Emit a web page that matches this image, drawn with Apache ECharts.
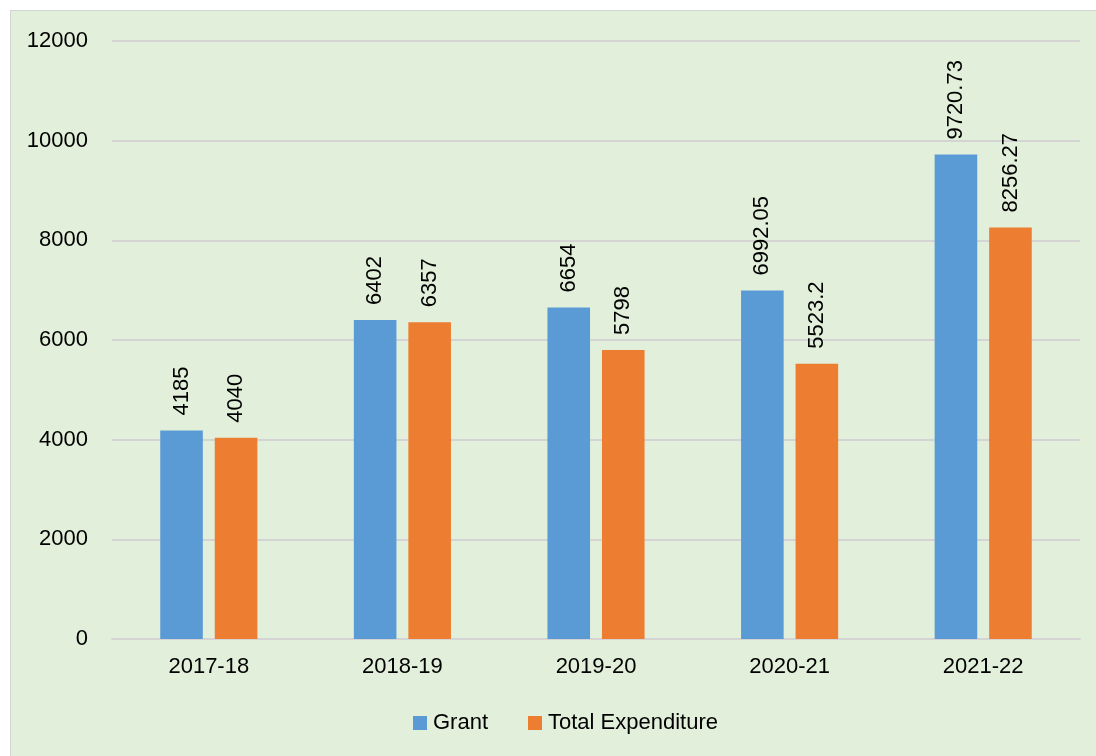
<!DOCTYPE html>
<html><head><meta charset="utf-8">
<script src="https://cdn.jsdelivr.net/npm/echarts@6/dist/echarts.min.js"></script>
<style>
html,body{margin:0;padding:0;background:#fff;width:1096px;height:756px;overflow:hidden;}
#frame{position:absolute;left:10px;top:10px;width:1100px;height:760px;background:#E2EFDA;border:1px solid #d4d4d4;}
#chart{position:absolute;left:0;top:0;width:1096px;height:756px;}
</style></head>
<body>
<div id="frame"></div>
<div id="chart"></div>
<script>
const categories = ['2017-18','2018-19','2019-20','2020-21','2021-22'];
const grant = [4185, 6402, 6654, 6992.05, 9720.73];
const expenditure = [4040, 6357, 5798, 5523.2, 8256.27];
const seriesNames = ['Grant','Total Expenditure'];

const font = '"Liberation Sans", Arial, sans-serif';
const chart = echarts.init(document.getElementById('chart'), null, {renderer:'canvas'});
const labelCfg = {
  show: true, position: 'top', rotate: 90, align: 'left', verticalAlign: 'middle',
  distance: 15, color: '#000', fontSize: 22, fontFamily: font,
  formatter: p => String(p.value)
};
chart.setOption({
  backgroundColor: 'transparent',
  animation: false,
  grid: {left: 112, right: 16, top: 41, bottom: 117, containLabel: false},
  legend: {
    bottom: 17, left: 408, itemWidth: 14, itemHeight: 14, itemGap: 40,
    icon: 'rect',
    textStyle: {fontSize: 22, fontFamily: font, color: '#000', padding: [0,0,0,1]},
    data: seriesNames
  },
  xAxis: {
    type: 'category', data: categories,
    axisLine: {lineStyle: {color: '#d4d4d4', width: 2}},
    axisTick: {show: false},
    axisLabel: {fontSize: 22, fontFamily: font, color: '#000', margin: 17}
  },
  yAxis: {
    type: 'value', min: 0, max: 12000, interval: 2000,
    axisLine: {show: false}, axisTick: {show: false},
    splitLine: {lineStyle: {color: '#d4d4d4', width: 2}},
    axisLabel: {fontSize: 22, fontFamily: font, color: '#000', margin: 24,
      formatter: v => String(v)}
  },
  series: [
    {name: seriesNames[0], type: 'bar', data: grant, barWidth: '22%', barGap: '28%',
     itemStyle: {color: '#5B9BD5'}, label: labelCfg},
    {name: seriesNames[1], type: 'bar', data: expenditure, barWidth: '22%', barGap: '28%',
     itemStyle: {color: '#ED7D31'}, label: labelCfg}
  ]
});
</script>
</body></html>
